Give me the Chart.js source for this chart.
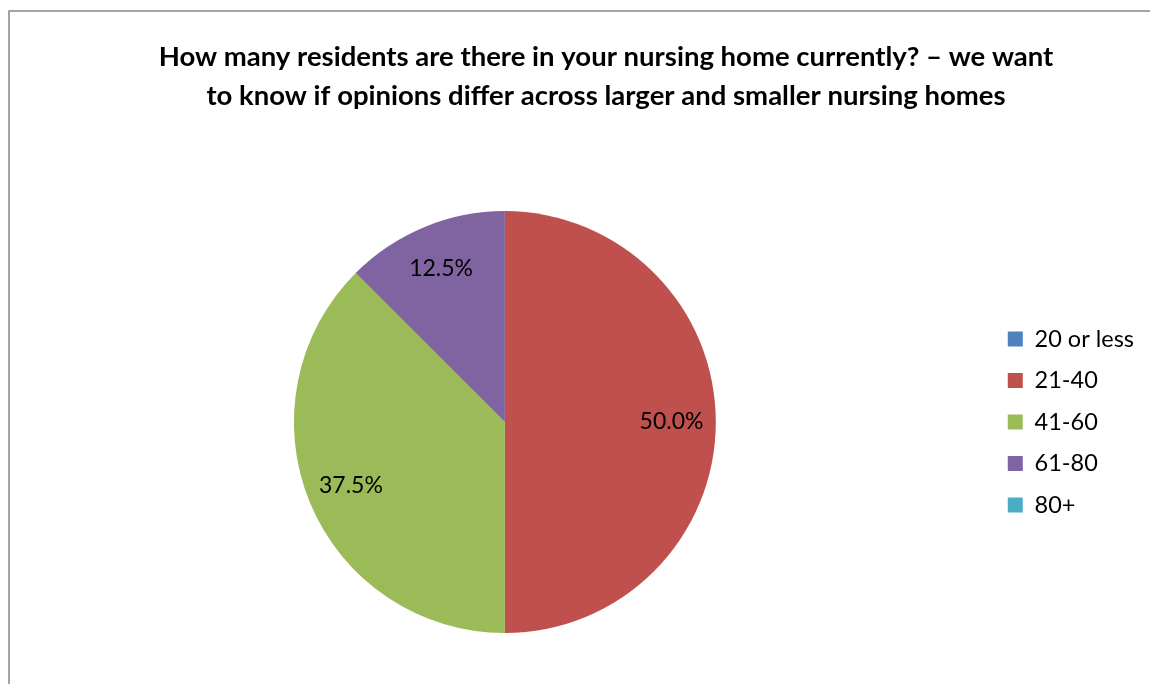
<!DOCTYPE html>
<html>
<head>
<meta charset="utf-8">
<script src="https://cdn.jsdelivr.net/npm/chart.js@4.4.0/dist/chart.umd.min.js"></script>
<style>
  html, body { margin: 0; padding: 0; background: #fff; }
  #wrap { width: 1150px; height: 684px; position: relative; }
</style>
</head>
<body>
<div id="wrap"><canvas id="c" width="1150" height="684"></canvas></div>
<script>
const titleLines = [
  "How many residents are there in your nursing home currently? \u2013 we want",
  "to know if opinions differ across larger and smaller nursing homes"
];
const categories = ["20 or less", "21-40", "41-60", "61-80", "80+"];
const counts = [0, 4, 3, 1, 0];
const colors = ["#4F81BD", "#C0504D", "#9BBB59", "#8064A2", "#4BACC6"];
const FONT = "Lato, 'Open Sans', sans-serif";

const borderPlugin = {
  id: 'frame',
  beforeDraw(chart) {
    const ctx = chart.ctx;
    ctx.save();
    ctx.fillStyle = '#fff';
    ctx.fillRect(0, 0, chart.width, chart.height);
    ctx.strokeStyle = '#868686';
    ctx.lineWidth = 1.5;
    ctx.beginPath();
    ctx.moveTo(9, chart.height + 5);
    ctx.lineTo(9, 11);
    ctx.lineTo(chart.width + 5, 11);
    ctx.stroke();
    ctx.restore();
  }
};

// widen the plot area to the left so the pie sits left of the title centre
const plotShift = {
  id: 'plotShift',
  afterLayout(chart, args, opts) {
    const a = chart.chartArea;
    a.left -= opts.left || 0;
    a.width = a.right - a.left;
  }
};

const labelPlugin = {
  id: 'sliceLabels',
  afterDatasetsDraw(chart) {
    const ctx = chart.ctx;
    const ds = chart.data.datasets[0];
    const total = ds.data.reduce((a, b) => a + b, 0);
    const meta = chart.getDatasetMeta(0);
    ctx.save();
    ctx.font = "23px " + FONT;
    ctx.fillStyle = '#000';
    ctx.textAlign = 'center';
    ctx.textBaseline = 'middle';
    meta.data.forEach((arc, i) => {
      const v = ds.data[i];
      if (!v) return;
      const mid = (arc.startAngle + arc.endAngle) / 2;
      const r = arc.outerRadius * 0.79;
      const x = arc.x + Math.cos(mid) * r;
      const y = arc.y + Math.sin(mid) * r;
      ctx.fillText((v / total * 100).toFixed(1) + '%', x, y);
    });
    ctx.restore();
  }
};

new Chart(document.getElementById('c'), {
  type: 'pie',
  data: {
    labels: categories,
    datasets: [{
      data: counts,
      backgroundColor: colors,
      borderWidth: 0
    }]
  },
  options: {
    responsive: false,
    animation: false,
    layout: { padding: { left: 68, right: 6, top: 10, bottom: 51 } },
    plugins: {
      plotShift: { left: 48 },
      title: {
        display: true,
        text: titleLines,
        color: '#000',
        font: { family: FONT, size: 27.5, weight: 'bold', lineHeight: 1.42 },
        padding: { top: 28, bottom: 95 }
      },
      legend: {
        position: 'right',
        fullSize: false,
        labels: {
          color: '#000',
          font: { family: FONT, size: 23.5 },
          boxWidth: 15,
          boxHeight: 15,
          padding: 18
        }
      },
      tooltip: { enabled: false }
    }
  },
  plugins: [borderPlugin, plotShift, labelPlugin]
});
</script>
</body>
</html>
